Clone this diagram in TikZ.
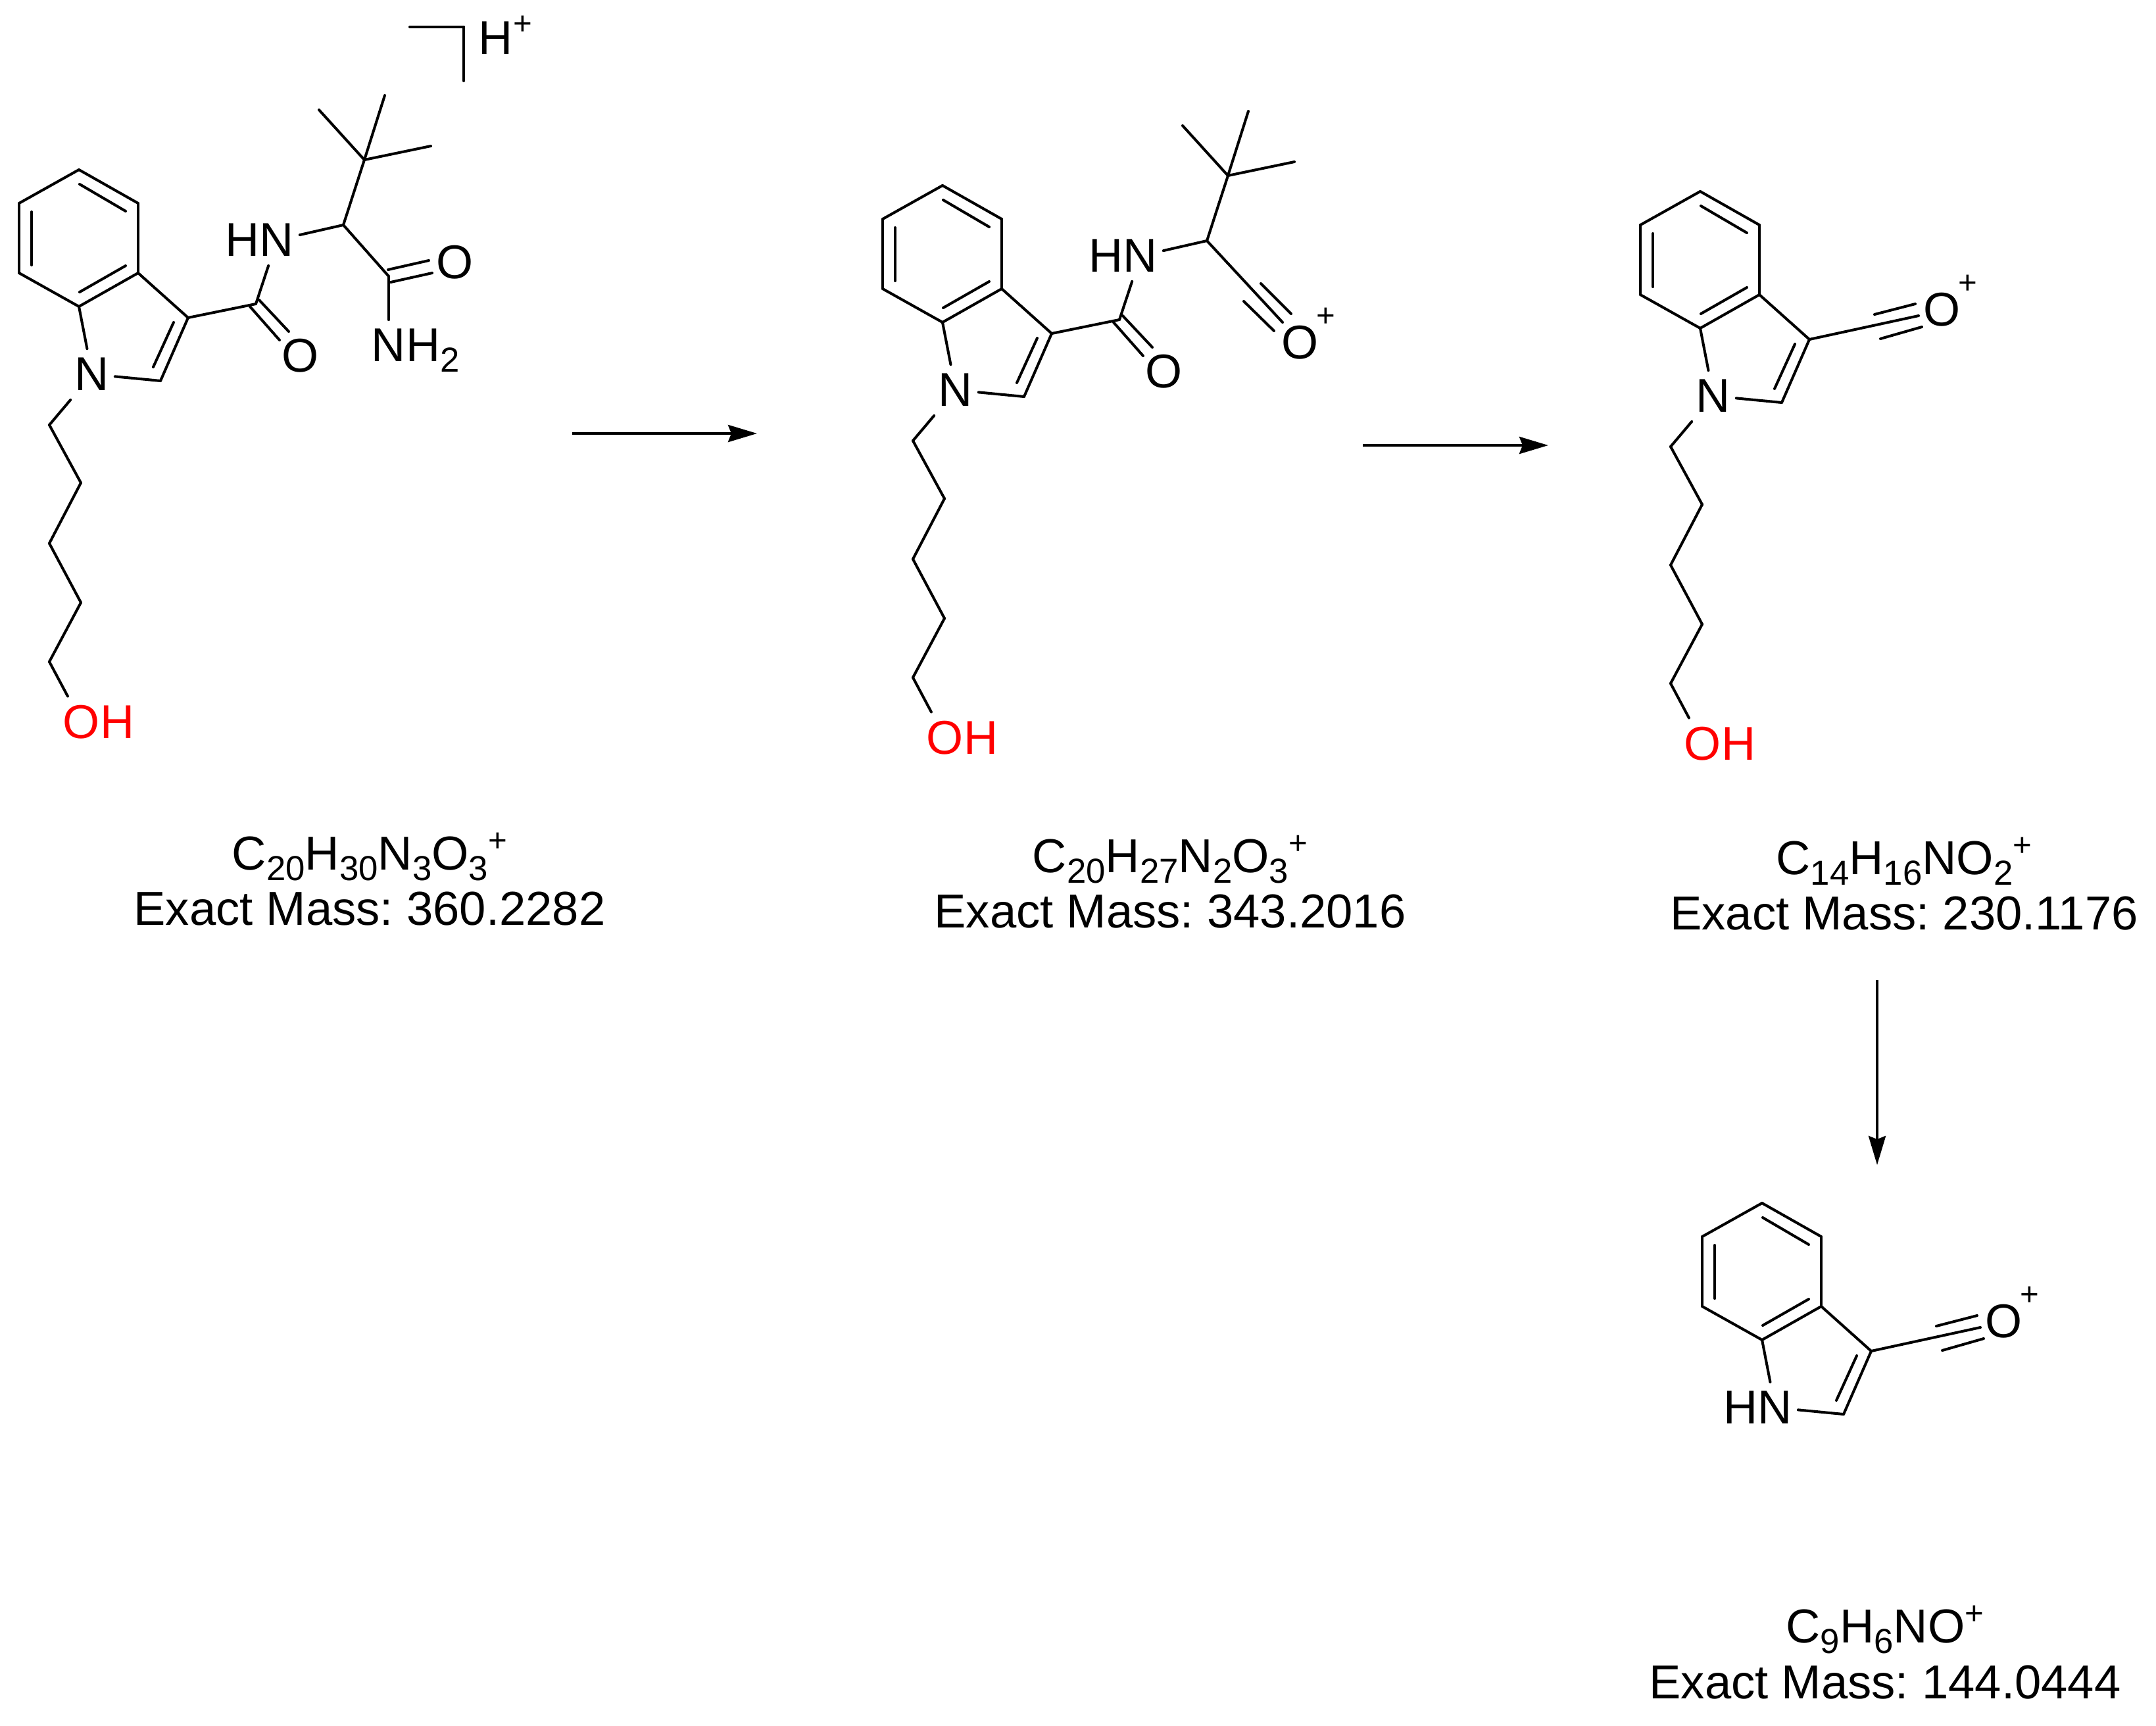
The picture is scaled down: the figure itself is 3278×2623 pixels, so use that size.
\documentclass[tikz,border=0pt]{standalone}
\usepackage{fontspec}
\setmainfont{Liberation Sans}
\frenchspacing
\usetikzlibrary{arrows.meta}
\newcommand{\atsub}[1]{\smash{\raisebox{-4.5pt}{\fontsize{15}{15}\selectfont #1}}}
\newcommand{\atsup}[1]{\smash{\raisebox{#1}{\fontsize{14}{14}\selectfont +}}}
\newcommand{\indolecore}{
  \coordinate (c4) at (210,309);
  \coordinate (c5) at (120,258);
  \coordinate (c6) at (29,309);
  \coordinate (c7) at (29,415);
  \coordinate (c7a) at (120,466);
  \coordinate (c3a) at (210,415);
  \coordinate (c3) at (286,483);
  \coordinate (c2) at (244,579);
  \coordinate (i45a) at (121,280);
  \coordinate (i45b) at (191,321);
  \coordinate (i67a) at (48,322);
  \coordinate (i67b) at (48,403);
  \coordinate (i7aa) at (121,444);
  \coordinate (i7ab) at (191,404);
  \coordinate (i23a) at (264,490);
  \coordinate (i23b) at (233,558);
  \path[bond] (c3a) edge (c4)
        (c4) edge (c5)
        (c5) edge (c6)
        (c6) edge (c7)
        (c7) edge (c7a)
        (c7a) edge (c3a)
        (c3a) edge (c3)
        (c3) edge (c2)
        (c7a) edge (n1)
        (n1) edge (c2)
        (i45a) edge (i45b)
        (i67a) edge (i67b)
        (i7aa) edge (i7ab)
        (i23a) edge (i23b);
}
\newcommand{\hydroxychain}{
  \coordinate (p1) at (75,646);
  \coordinate (p2) at (123,734);
  \coordinate (p3) at (75,826);
  \coordinate (p4) at (123,916);
  \coordinate (p5) at (75,1006);
  \node[atom,text=red] (oh) at (124,1098) {O\rlap{H}};
  \path[bond] (n1) edge (p1)
        (p1) edge (p2)
        (p2) edge (p3)
        (p3) edge (p4)
        (p4) edge (p5)
        (p5) edge (oh);
}
\newcommand{\amideside}{
  \coordinate (am) at (389,462);
  \coordinate (ca) at (522,342);
  \coordinate (cq) at (554,243);
  \coordinate (me1) at (485,167);
  \coordinate (me2) at (585,145);
  \coordinate (me3) at (655,222);
  \coordinate (amo1a) at (380,466);
  \coordinate (amo1b) at (425,517);
  \coordinate (amo2a) at (394,456);
  \coordinate (amo2b) at (439,504);
  \node[atom] (hn) at (421,365) {\llap{H}N};
  \node[atom] (amo) at (457,541) {O};
  \path[bond] (c3) edge (am)
        (am) edge (hn)
        (hn) edge (ca)
        (ca) edge (cq)
        (cq) edge (me1)
        (cq) edge (me2)
        (cq) edge (me3)
        (amo1a) edge (amo1b)
        (amo2a) edge (amo2b);
}
\newcommand{\acylium}{
  \coordinate (tm) at (452,447);
  \coordinate (tua) at (385,445);
  \coordinate (tub) at (447,429);
  \coordinate (tla) at (394,482);
  \coordinate (tlb) at (457,464);
  \node[atom] (op) at (488,438) {O\rlap{\kern-1pt\atsup{14pt}}};
  \path[bond] (c3) edge (tm)
        (tua) edge (tub)
        (tla) edge (tlb);
}
\tikzset{
  atom/.style={inner xsep=2.5pt,inner ysep=4pt,outer sep=0pt,font=\fontsize{20.5}{23.9}\selectfont},
  bond/.style={line width=1.15pt,line cap=round},
  rxn/.style={draw,line width=1.15pt,-{Stealth[length=.44cm,width=.26cm,inset=.05cm]}},
  formula/.style={align=center,inner sep=0pt,font=\fontsize{20.6}{23.9}\selectfont}
}
\begin{document}
\begin{tikzpicture}[x=0.01cm,y=-0.01cm]
  \useasboundingbox (0,0) rectangle (3278,2623);
  % precursor
  \begin{scope}[name prefix=a-]
    \node[atom] (n1) at (140,569) {N};
    \indolecore
    \hydroxychain
    \amideside
    \coordinate (cn) at (591,420);
    \coordinate (cno1a) at (590,410);
    \coordinate (cno1b) at (652,396);
    \coordinate (cno2a) at (594,429);
    \coordinate (cno2b) at (657,415);
    \coordinate (bra) at (623,41);
    \coordinate (brb) at (705,41);
    \coordinate (brc) at (705,123);
    \node[atom] (cno) at (692,399) {O};
    \node[atom] (nh2) at (591,525) {N\rlap{H\atsub{2}}};
    \node[atom] (hplus) at (754,58) {H\rlap{\atsup{8.5pt}}};
    \path[bond] (ca) edge (cn)
          (cn) edge (nh2)
          (cno1a) edge (cno1b)
          (cno2a) edge (cno2b)
          (bra) edge (brb)
          (brb) edge (brc);
  \end{scope}
  % first fragment
  \begin{scope}[shift={(1313,24)},name prefix=b-]
    \node[atom] (n1) at (140,569) {N};
    \indolecore
    \hydroxychain
    \amideside
    \coordinate (tm) at (637,466);
    \coordinate (tua) at (604,407);
    \coordinate (tub) at (650,453);
    \coordinate (tla) at (578,434);
    \coordinate (tlb) at (624,479);
    \node[atom] (op) at (664,497) {O\rlap{\kern-1pt\atsup{14pt}}};
    \path[bond] (ca) edge (tm)
          (tua) edge (tub)
          (tla) edge (tlb);
  \end{scope}
  % second fragment
  \begin{scope}[shift={(2465,33)},name prefix=c-]
    \node[atom] (n1) at (140,569) {N};
    \indolecore
    \hydroxychain
    \acylium
  \end{scope}
  % third fragment
  \begin{scope}[shift={(2559,1571)},name prefix=d-]
    \node[atom] (n1) at (140,569) {\llap{H}N};
    \indolecore
    \acylium
  \end{scope}

  \node[formula] (fa) at (562,1340) {C\atsub{20}H\atsub{30}N\atsub{3}O\atsub{3}\atsup{8pt}\\Exact Mass: 360.2282};
  \node[formula] (fb) at (1779,1344) {C\atsub{20}H\atsub{27}N\atsub{2}O\atsub{3}\atsup{8pt}\\Exact Mass: 343.2016};
  \node[formula] (fc) at (2895,1347) {C\atsub{14}H\atsub{16}NO\atsub{2}\atsup{8pt}\\Exact Mass: 230.1176};
  \node[formula] (fd) at (2866,2515) {C\atsub{9}H\atsub{6}NO\atsup{8pt}\\Exact Mass: 144.0444};

  \coordinate (r1a) at (870,659);
  \coordinate (r1b) at (1151,659);
  \coordinate (r2a) at (2072,677);
  \coordinate (r2b) at (2354,677);
  \coordinate (r3a) at (2854,1490);
  \coordinate (r3b) at (2854,1771);
  \draw[rxn] (r1a) -- (r1b);
  \draw[rxn] (r2a) -- (r2b);
  \draw[rxn] (r3a) -- (r3b);
\end{tikzpicture}
\end{document}
